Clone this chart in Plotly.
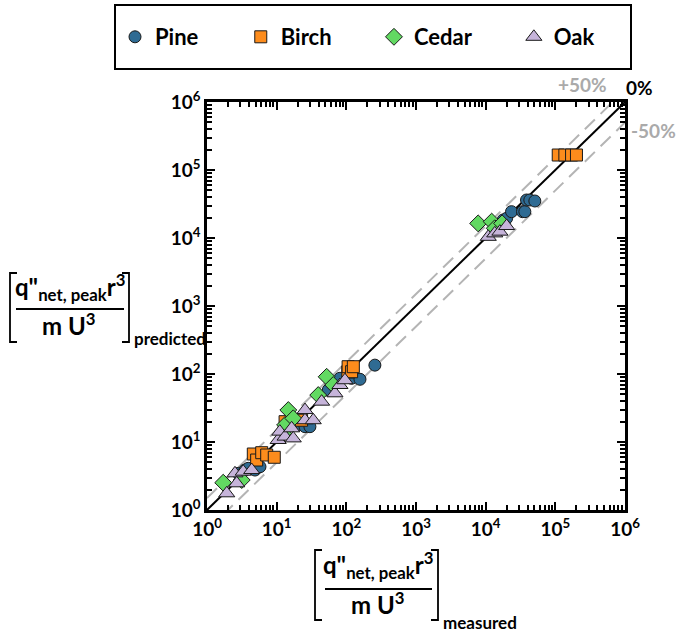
import plotly.graph_objects as go

# ---------------- data ----------------
pine_x = [2.81, 3.5, 3.91, 4.88, 5.76, 20.4, 25.5, 30, 55, 81, 119, 157, 257,
          17.8e3, 20e3, 23.5e3, 33.8e3, 36.5e3, 38.6e3, 43e3, 50.8e3]
pine_y = [3.46, 3.87, 4.1, 3.87, 4.33, 17.8, 16.8, 16.8, 58, 86.5, 86.5, 83.6, 135,
          18.4e3, 19.5e3, 24.4e3, 24.4e3, 24.4e3, 36.2e3, 36.2e3, 35e3]

birch_x = [4.62, 5.16, 6.1, 7.19, 9.24, 13.2, 22.8, 105, 106, 119, 126,
           110e3, 137e3, 171e3, 201e3]
birch_y = [6.66, 5.43, 6.96, 6.44, 5.96, 19.9, 20.9, 107, 128, 108, 128,
           166e3, 166e3, 166e3, 166e3]

cedar_x = [1.71, 3.15, 12.4, 13.2, 14.7, 17.3, 39.5, 52.2, 64.9,
           7.8e3, 12.2e3, 13.5e3, 17.2e3]
cedar_y = [2.52, 2.76, 13.4, 17.8, 29.5, 22.3, 49, 91, 68.9,
           16.4e3, 17.4e3, 13.9e3, 16.4e3]

oak_x = [1.92, 2.52, 2.67, 3.31, 4.38, 10.5, 11.1, 13.2, 16.4, 17.3, 25.5, 25.5,
         33.5, 44.2, 68.6, 81, 95.5, 10.9e3, 13.5e3, 16e3, 20e3]
oak_y = [1.76, 3.46, 2.47, 3.66, 3.87, 10.7, 14.2, 12.0, 15.9, 11.3, 29.5, 20.9,
         20.9, 39.2, 52, 68.9, 81, 10.4e3, 11.7e3, 12.4e3, 15e3]

ref_x = [1, 1e6]
ratios = [1.0, 1.5, 0.5]

tick_vals = [1, 10, 100, 1e3, 1e4, 1e5, 1e6]
tick_text = ["10<sup>0</sup>", "10<sup>1</sup>", "10<sup>2</sup>", "10<sup>3</sup>",
             "10<sup>4</sup>", "10<sup>5</sup>", "10<sup>6</sup>"]
minor_vals = [m * 10 ** e for e in range(0, 6) for m in range(2, 10)]

# ---------------- layout geometry (pixels) ----------------
W, H = 680, 633
L, R, T, B = 207, 625, 102, 510


def PX(px):
    return (px - L) / (R - L)


def PY(py):
    return (B - py) / (B - T)


FONT = "Lato"
edge = dict(color="#1a1a1a", width=1)

fig = go.Figure()

# reference lines
fig.add_trace(go.Scatter(x=ref_x, y=[v * ratios[1] for v in ref_x], mode="lines",
                         line=dict(color="#b4b4b4", width=2, dash="14px,8px"),
                         showlegend=False, hoverinfo="skip"))
fig.add_trace(go.Scatter(x=ref_x, y=[v * ratios[2] for v in ref_x], mode="lines",
                         line=dict(color="#b4b4b4", width=2, dash="14px,8px"),
                         showlegend=False, hoverinfo="skip"))
fig.add_trace(go.Scatter(x=ref_x, y=[v * ratios[0] for v in ref_x], mode="lines",
                         line=dict(color="black", width=2),
                         showlegend=False, hoverinfo="skip"))

NB = "\u00a0" * 7
fig.add_trace(go.Scatter(x=pine_x, y=pine_y, mode="markers", name="Pine" + NB,
                         marker=dict(symbol="circle", size=12, color="#2f6b93", line=edge)))
fig.add_trace(go.Scatter(x=birch_x, y=birch_y, mode="markers", name="Birch" + NB,
                         marker=dict(symbol="square", size=12, color="#fd8c1c", line=edge)))
fig.add_trace(go.Scatter(x=cedar_x, y=cedar_y, mode="markers", name="Cedar" + NB,
                         marker=dict(symbol="diamond", size=13, color="#62d962", line=edge)))
fig.add_trace(go.Scatter(x=oak_x, y=oak_y, mode="markers", name="Oak",
                         marker=dict(symbol="triangle-up", size=14, color="#c6b4da", line=edge)))

axis_common = dict(
    type="log", range=[0, 6], showgrid=False, zeroline=False,
    showline=True, linecolor="black", linewidth=2.5, mirror="ticks",
    ticks="inside", ticklen=8, tickwidth=1.5, tickcolor="black",
    tickmode="array", tickvals=tick_vals, ticktext=tick_text,
    tickfont=dict(family=FONT, size=19, color="black", weight="bold"),
    minor=dict(ticks="inside", ticklen=5, tickwidth=1.5, tickcolor="black",
               tickmode="array", tickvals=minor_vals, showgrid=False),
)

fig.update_layout(
    width=W, height=H,
    margin=dict(l=L, r=W - R, t=T, b=H - B, autoexpand=False),
    paper_bgcolor="white", plot_bgcolor="white",
    xaxis=dict(**axis_common),
    yaxis=dict(**axis_common),
    showlegend=True,
    legend=dict(orientation="h", x=PX(115), y=PY(37), xanchor="left", yanchor="middle",
                font=dict(family=FONT, size=22, color="black", weight="bold"),
                bgcolor="rgba(0,0,0,0)", borderwidth=0, itemwidth=30),
)

shapes = []
# legend box
shapes.append(dict(type="rect", xref="paper", yref="paper",
                   x0=PX(115), x1=PX(631), y0=PY(5), y1=PY(69),
                   line=dict(color="black", width=2)))


def bracket(x, ytop, ybot, dx):
    return dict(type="path", xref="paper", yref="paper",
                path=f"M {PX(x + dx)},{PY(ytop)} L {PX(x)},{PY(ytop)} L {PX(x)},{PY(ybot)} L {PX(x + dx)},{PY(ybot)}",
                line=dict(color="black", width=1.8))


def hline(x0, x1, y):
    return dict(type="line", xref="paper", yref="paper",
                x0=PX(x0), x1=PX(x1), y0=PY(y), y1=PY(y),
                line=dict(color="black", width=2))


# y-title pieces
shapes += [bracket(10, 273, 342, 7), bracket(129, 273, 342, -7), hline(16, 124, 309)]
# x-title pieces
shapes += [bracket(315, 550, 620, 7), bracket(438, 550, 620, -7), hline(325, 432, 589)]

num = '<b>q"<sub>net, peak</sub>r<sup>3</sup></b>'
den = "<b>m U<sup>3</sup></b>"

annotations = []


def ann(text, px, py, size, color="black", xanchor="center"):
    annotations.append(dict(text=text, x=PX(px), y=PY(py), xref="paper", yref="paper",
                            showarrow=False, xanchor=xanchor, yanchor="middle",
                            font=dict(family=FONT, size=size, color=color)))


ann(num, 70, 287, 24)
ann(den, 69, 324, 24)
ann("<b>predicted</b>", 132, 338, 17, xanchor="left")
ann(num, 378, 565, 24)
ann(den, 378, 603, 24)
ann("<b>measured</b>", 441, 622, 17, xanchor="left")
ann("<b>+50%</b>", 582, 85, 19, color="#aaaaaa")
ann("<b>0%</b>", 639, 88, 19)
ann("<b>-50%</b>", 653, 130, 19, color="#aaaaaa")

fig.update_layout(shapes=shapes, annotations=annotations)

fig.write_html("out.html")
